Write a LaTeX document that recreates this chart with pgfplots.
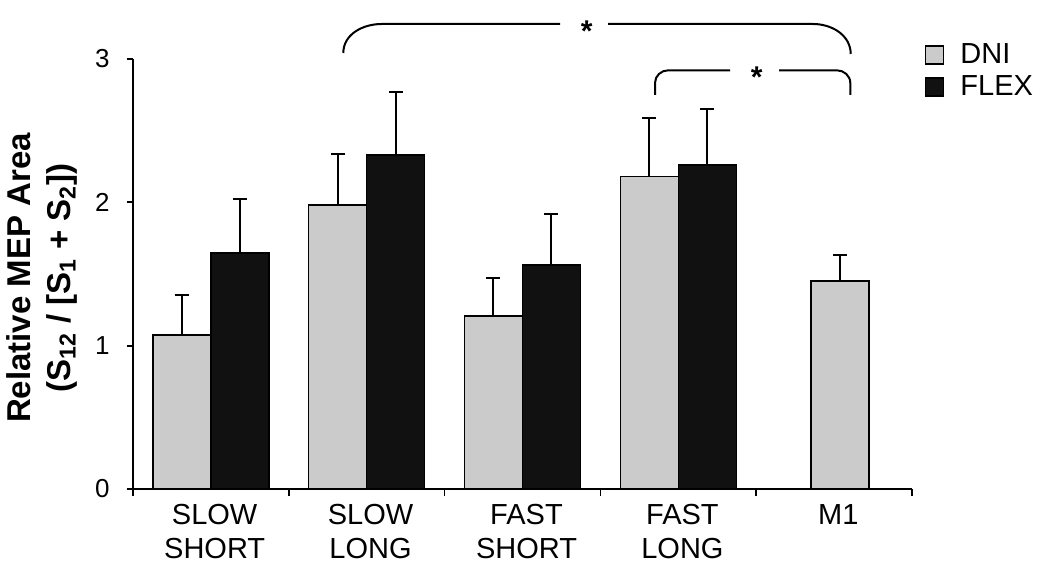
\documentclass[border=0pt]{standalone}
\usepackage{pgfplots}
\pgfplotsset{compat=1.18}
\usepackage{fontspec}
\setmainfont{Liberation Sans}
\definecolor{dni}{HTML}{CBCBCB}
\definecolor{flex}{HTML}{111111}
\pgfplotstableread{
x y e
1 1.075 0.275
2 1.98 0.36
3 1.207 0.263
4 2.18 0.41
}\dnitab
\pgfplotstableread{
x y e
1 1.645 0.38
2 2.33 0.44
3 1.56 0.36
4 2.26 0.39
}\flextab
\pgfplotstableread{
x y e
5 1.45 0.18
}\monetab
\begin{document}
\begin{tikzpicture}
\useasboundingbox (0,0) rectangle (525pt,288.5pt);
\begin{axis}[
  at={(66.35pt,44pt)}, anchor=south west,
  width=389.8pt, height=215pt, scale only axis,
  ybar, bar width=29pt,
  xmin=0.5, xmax=5.5, ymin=0, ymax=3,
  axis x line*=bottom, axis y line*=left,
  axis line style={line width=0.9pt, black},
  xtick={1,2,3,4,5},
  xticklabels={SLOW\\SHORT, SLOW\\LONG, FAST\\SHORT, FAST\\LONG, M1},
  xticklabel style={align=center, font=\fontsize{14.5}{17}\selectfont, anchor=north, yshift=-1pt, xshift=2pt},
  major x tick style={draw=none},
  minor xtick={0.5,1.5,...,5.5},
  ytick={0,1,2,3},
  yticklabel style={font=\fontsize{13}{15}\selectfont, xshift=-5pt},
  /pgf/number format/assume math mode=true,
  tick align=outside,
  major tick length=3pt, minor tick length=3.5pt,
  tick style={line width=0.9pt, black},
  clip=false,
  legend style={at={(axis description cs:1,1)}, anchor=north west, draw=none, fill=none,
    xshift=6pt, yshift=9pt, inner sep=0pt, font=\fontsize{14.5}{16}\selectfont,
    nodes={inner sep=1pt}, row sep=2.5pt},
  legend cell align=left,
]
\addplot[bar shift=-14.5pt, fill=dni, draw=black, line width=0.9pt,
  error bars/.cd, y dir=plus, y explicit,
  error bar style={line width=1pt, black},
  error mark options={rotate=90, black, mark size=3.5pt, line width=1pt},
  /pgfplots/legend image code/.code={\draw[fill=dni, draw=black, line width=0.9pt] (0pt,-4.5pt) rectangle (9pt,4.5pt); \path (16pt,0pt);}]
  table[x=x, y=y, y error=e] {\dnitab};
\addlegendentry{DNI}
\addplot[bar shift=14.5pt, fill=flex, draw=black, line width=0.9pt,
  error bars/.cd, y dir=plus, y explicit,
  error bar style={line width=1pt, black},
  error mark options={rotate=90, black, mark size=3.5pt, line width=1pt},
  /pgfplots/legend image code/.code={\draw[fill=flex, draw=black, line width=0.9pt] (0pt,-4.5pt) rectangle (9pt,4.5pt); \path (16pt,0pt);}]
  table[x=x, y=y, y error=e] {\flextab};
\addlegendentry{FLEX}
\addplot[bar shift=2.75pt, fill=dni, draw=black, line width=0.9pt, forget plot,
  error bars/.cd, y dir=plus, y explicit,
  error bar style={line width=1pt, black},
  error mark options={rotate=90, black, mark size=3.5pt, line width=1pt}]
  table[x=x, y=y, y error=e] {\monetab};
\end{axis}
% y label
\node[rotate=90, align=center, font=\bfseries\fontsize{16.5}{20}\selectfont] at (21pt,149.5pt)
  {Relative MEP Area\\(S\textsubscript{12} / [S\textsubscript{1} + S\textsubscript{2}])};
% significance brackets
\draw[line width=1pt] (171.65pt,262pt) to[out=90,in=180] (190.85pt,276.5pt) -- (280pt,276.5pt);
\draw[line width=1pt] (304pt,276.5pt) -- (406.5pt,276.5pt) to[out=0,in=90] (425.35pt,261.5pt);
\node[font=\bfseries\fontsize{15}{15}\selectfont, inner sep=0pt] at (293.35pt,273pt) {*};
\draw[line width=1pt] (327.5pt,241pt) -- (327.5pt,247pt) to[out=90,in=180] (334.15pt,253.35pt) -- (365pt,253.35pt);
\draw[line width=1pt] (389.5pt,253.35pt) -- (418.35pt,253.35pt) to[out=0,in=90] (425.15pt,247pt) -- (425.15pt,241pt);
\node[font=\bfseries\fontsize{15}{15}\selectfont, inner sep=0pt] at (378.35pt,250pt) {*};
\end{tikzpicture}
\end{document}
